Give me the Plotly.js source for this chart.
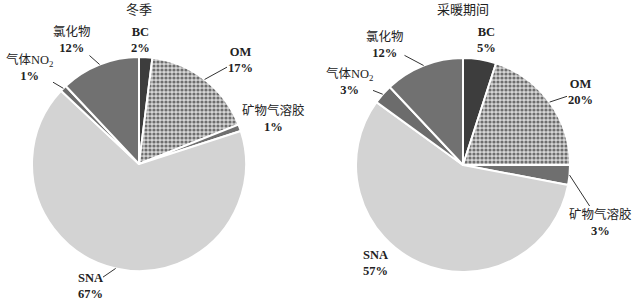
<!DOCTYPE html>
<html><head><meta charset="utf-8">
<script src="https://cdn.plot.ly/plotly-3.0.1.min.js"></script>
<style>html,body{margin:0;padding:0;background:#fff}</style>
</head><body><div id="chart" style="width:633px;height:301px"></div>
<script>
const categories = ['BC', 'OM', '矿物气溶胶', 'SNA', '气体NO<sub>2</sub>', '氯化物'];
const winterValues = [2, 17, 1, 67, 1, 12];
const heatingValues = [5, 20, 3, 57, 3, 12];
const titles = ['冬季', '采暖期间'];

const W = 633, H = 301;
const pies = [
  {cx: 139, cy: 164, r: 107, values: winterValues},
  {cx: 463, cy: 165, r: 107, values: heatingValues}
];
const colors = ['#3d3d3d', '#a8a8a8', '#6f6f6f', '#d3d3d3', '#6c6c6c', '#717171'];
const latin = [true, true, false, true, false, false];

// label centres (pixels) and whether a leader line is drawn
const labelPos = [
  [[140, 40, false], [240, 60, true], [273, 118, false], [90, 286, true], [29, 68, true], [72, 40, true]],
  [[486, 40, false], [580, 92, true], [600, 222, true], [375, 263, false], [349, 81, true], [385, 45, true]]
];
const FONT = {family: 'Liberation Serif, Noto Sans CJK SC, serif', size: 12.5, color: '#222'};

const traces = pies.map((p, k) => ({
  type: 'pie',
  values: p.values,
  labels: categories,
  sort: false,
  direction: 'clockwise',
  rotation: 0,
  textinfo: 'none',
  textposition: 'none',
  hoverinfo: 'label+percent',
  showlegend: false,
  domain: {x: [(p.cx - p.r) / W, (p.cx + p.r) / W], y: [1 - (p.cy + p.r) / H, 1 - (p.cy - p.r) / H]},
  marker: {
    colors: colors,
    line: {color: '#ffffff', width: 2},
    pattern: {
      shape: ['', '.', '', '', '', ''],
      bgcolor: ['', '#d6d6d6', '', '', '', ''],
      fgcolor: ['', '#6e6e6e', '', '', '', ''],
      size: 4, solidity: 0.5
    }
  }
}));

const annotations = [];
pies.forEach((p, k) => {
  const total = p.values.reduce((a, b) => a + b, 0);
  let cum = 0;
  p.values.forEach((v, i) => {
    const mid = (cum + v / 2) / total * 2 * Math.PI;
    cum += v;
    const tx = p.cx + p.r * Math.sin(mid);
    const ty = p.cy - p.r * Math.cos(mid);
    const [lx, ly, arrow] = labelPos[k][i];
    const pct = Math.round(v / total * 100) + '%';
    const name = latin[i] ? '<b>' + categories[i] + '</b>' : categories[i];
    const text = name + '<br><b>' + pct + '</b>';
    if (arrow) {
      annotations.push({
        xref: 'paper', yref: 'paper', x: tx / W, y: 1 - ty / H,
        ax: lx - tx, ay: ly - ty, showarrow: true, arrowhead: 0, arrowwidth: 1,
        arrowcolor: '#333', standoff: 0, text: text, borderpad: 0, font: FONT
      });
    } else {
      annotations.push({
        xref: 'paper', yref: 'paper', x: lx / W, y: 1 - ly / H,
        xanchor: 'center', yanchor: 'middle',
        showarrow: false, text: text, borderpad: 0, font: FONT
      });
    }
  });
  annotations.push({
    xref: 'paper', yref: 'paper', x: p.cx / W, y: 1 - 9 / H, showarrow: false,
    xanchor: 'center', yanchor: 'middle',
    text: titles[k], font: {family: 'Noto Sans CJK SC, serif', size: 13, color: '#222'}
  });
});

Plotly.newPlot('chart', traces, {
  width: W, height: H,
  margin: {l: 0, r: 0, t: 0, b: 0},
  paper_bgcolor: '#ffffff',
  annotations: annotations
}, {displayModeBar: false, staticPlot: true});
</script></body></html>
